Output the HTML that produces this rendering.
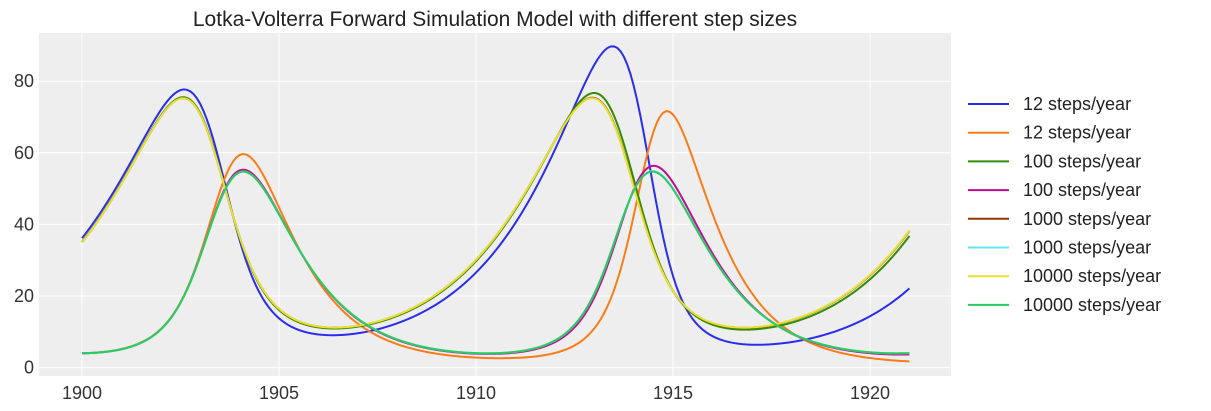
<!DOCTYPE html>
<html><head><meta charset="utf-8"><style>
body{margin:0;background:#fff;}
svg{display:block;font-family:"Liberation Sans","DejaVu Sans",sans-serif;}
</style></head><body>
<svg id="s" width="1211" height="411" xmlns="http://www.w3.org/2000/svg">
<rect x="39" y="33" width="912" height="343" fill="#eeeeee"/>
<g id="grid" stroke="#fff" stroke-width="1"></g>
<g id="lines" fill="none" stroke-width="2"></g>
<text x="495" y="26" text-anchor="middle" font-size="21" fill="#222">Lotka-Volterra Forward Simulation Model with different step sizes</text>
<g id="ticks" font-size="18" fill="#333"></g>
<g id="legend" font-size="18" fill="#222"></g>
</svg>
<script>
var X=function(t){return 82+(t-1900)*39.4;};
var Y=function(v){return 367.6-v*3.58;};
var ns="http://www.w3.org/2000/svg";
function el(p,tag,a,txt){var e=document.createElementNS(ns,tag);for(var k in a)e.setAttribute(k,a[k]);if(txt!==undefined)e.textContent=txt;document.getElementById(p).appendChild(e);return e;}
for(var t=1900;t<=1920;t+=5){el("grid","line",{x1:X(t),x2:X(t),y1:33,y2:376});el("ticks","text",{x:X(t),y:399,"text-anchor":"middle"},t);}
for(var v=0;v<=80;v+=20){el("grid","line",{x1:39,x2:951,y1:Y(v),y2:Y(v)});el("ticks","text",{x:34,y:Y(v)+6,"text-anchor":"end"},v);}
var k=0.992,a=0.5*k,b=0.0258*k,g=0.907*k,d=0.027*k;
var cfg=[[12,"#2a2eec","#fa7c17"],[100,"#328c06","#c10c90"],[1000,"#933708","#65e5f3"],[10000,"#e6e135","#29cc5f"]];
cfg.forEach(function(c){
 var n=c[0],dt=1/n,x=35,y=4,N=21*n+1,step=Math.max(1,Math.floor(n/100));
 var p1=[],p2=[];
 for(var i=0;i<N;i++){
  var nx=x+(a*x-b*x*y)*dt, ny=y+(d*x*y-g*y)*dt; x=nx;y=ny;
  if(i%step==0||i==N-1){var tt=1900+i*dt;p1.push(X(tt).toFixed(2)+","+Y(x).toFixed(2));p2.push(X(tt).toFixed(2)+","+Y(y).toFixed(2));}
 }
 el("lines","polyline",{points:p1.join(" "),stroke:c[1]});
 el("lines","polyline",{points:p2.join(" "),stroke:c[2]});
});
var labs=[["12 steps/year","#2a2eec"],["12 steps/year","#fa7c17"],["100 steps/year","#328c06"],["100 steps/year","#c10c90"],["1000 steps/year","#933708"],["1000 steps/year","#65e5f3"],["10000 steps/year","#e6e135"],["10000 steps/year","#29cc5f"]];
labs.forEach(function(l,i){var yy=104+i*28.7;el("legend","line",{x1:968,x2:1009,y1:yy,y2:yy,stroke:l[1],"stroke-width":2});el("legend","text",{x:1023,y:yy+6},l[0]);});
</script>
</body></html>
